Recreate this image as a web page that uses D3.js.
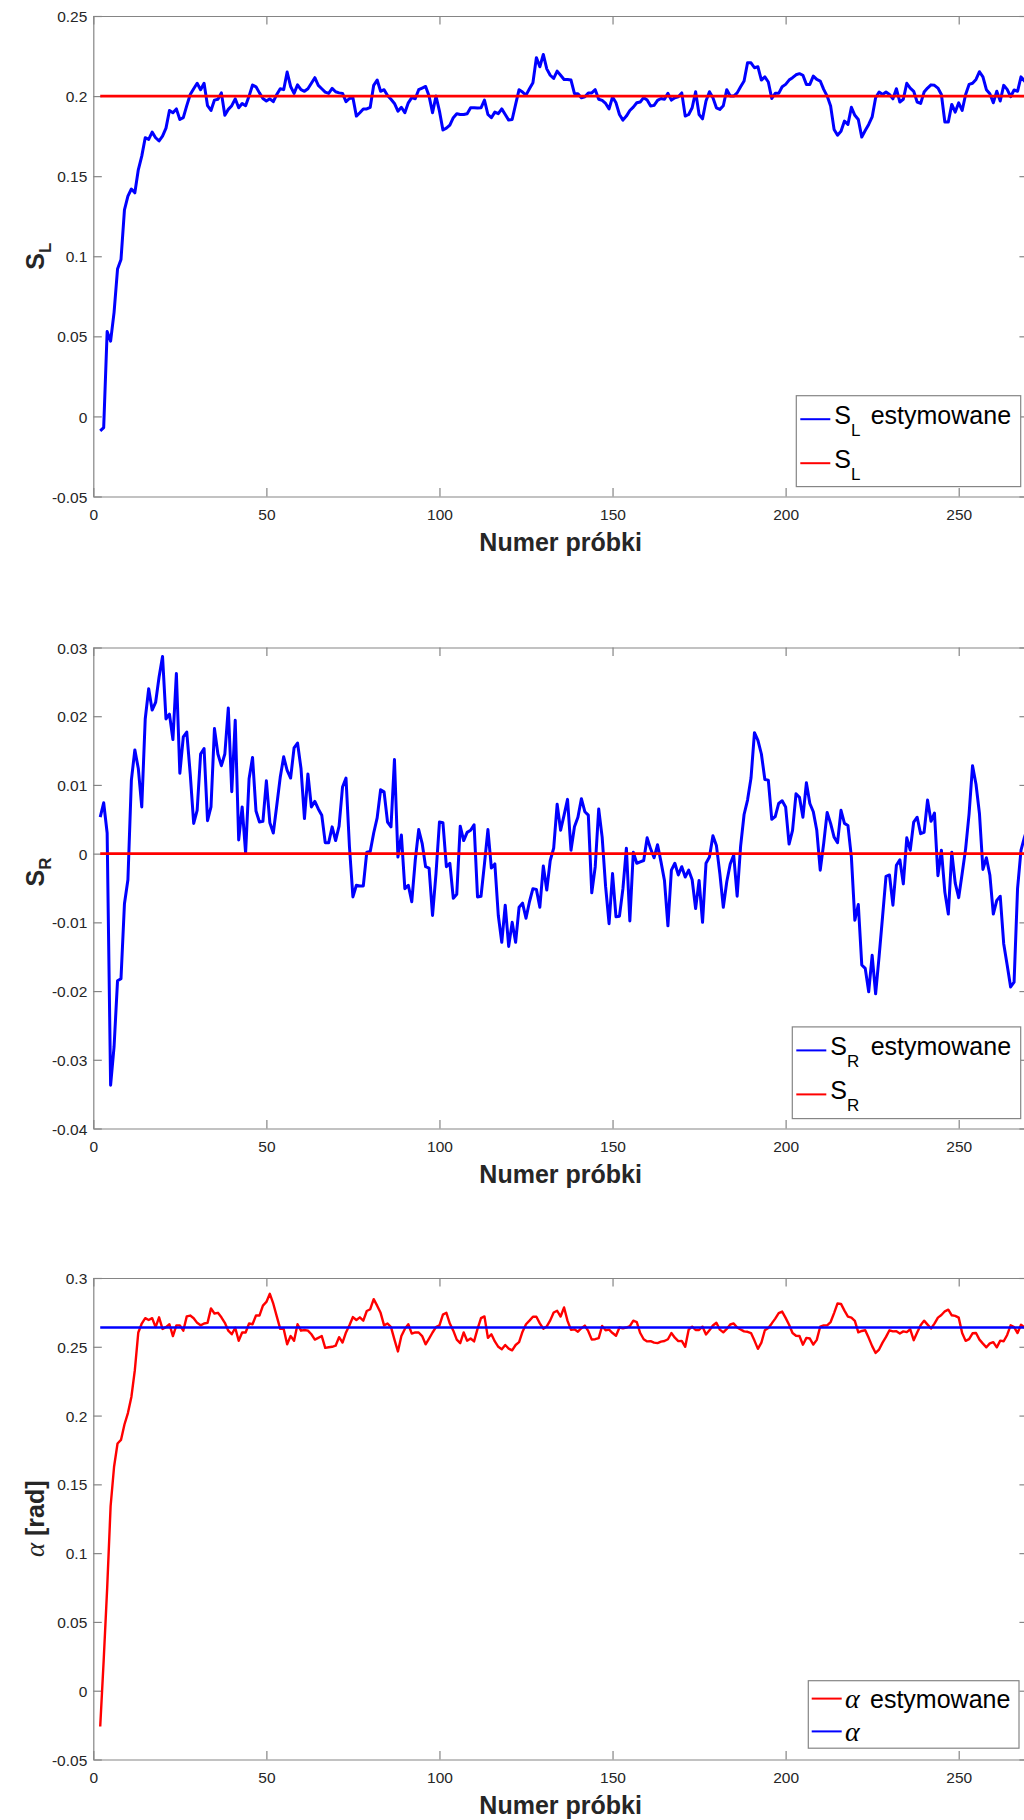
<!DOCTYPE html>
<html>
<head>
<meta charset="utf-8">
<script src="https://cdn.jsdelivr.net/npm/d3@7"></script>
<style>
  body { margin: 0; background: #fff; }
  svg { display: block; }
  text { font-family: "Liberation Sans", Arial, Helvetica, sans-serif; }
</style>
</head>
<body>
<svg id="fig" width="1024" height="1820"></svg>
<script>
// Sample index of the first estimate; every series below runs n = 2 … 270.
const firstSample = 2;
const xMax = 270;

// S_L estimate and its true value
const sLEst = [
  -0.009,-0.007,0.053,0.047,0.065,0.092,0.098,0.129,0.1375,0.142,
  0.1396,0.154,0.1625,0.174,0.173,0.1775,0.174,0.172,0.175,0.180,
  0.191,0.1896,0.192,0.1854,0.1865,0.194,0.201,0.2046,0.208,0.204,
  0.208,0.194,0.191,0.1975,0.198,0.202,0.188,0.1917,0.194,0.1983,
  0.1927,0.1954,0.194,0.2,0.2069,0.2058,0.202,0.1985,0.1969,0.1983,
  0.1965,0.201,0.2046,0.204,0.215,0.206,0.2017,0.207,0.204,0.203,
  0.2046,0.208,0.2115,0.2067,0.2046,0.2025,0.2017,0.2048,0.2027,0.202,
  0.2017,0.1965,0.1985,0.199,0.1875,0.1896,0.192,0.192,0.193,0.2067,
  0.21,0.203,0.204,0.2004,0.198,0.1954,0.1906,0.193,0.1896,0.1958,
  0.199,0.1983,0.204,0.205,0.206,0.2,0.1896,0.2,0.1906,0.1788,
  0.18,0.1819,0.1865,0.189,0.1885,0.1885,0.189,0.1927,0.1927,0.1925,
  0.1927,0.1975,0.1885,0.1865,0.19,0.189,0.192,0.1885,0.185,0.1854,
  0.1948,0.204,0.2025,0.2006,0.2046,0.2083,0.224,0.2183,0.226,0.217,
  0.213,0.211,0.2156,0.213,0.2104,0.2104,0.21,0.2015,0.2015,0.199,
  0.1996,0.202,0.202,0.204,0.198,0.1973,0.1954,0.192,0.1994,0.1958,
  0.1885,0.185,0.1875,0.191,0.1931,0.1958,0.1963,0.199,0.1975,0.1938,
  0.1942,0.1973,0.1985,0.198,0.2017,0.1975,0.199,0.1996,0.202,0.1875,
  0.1885,0.1927,0.2027,0.1885,0.1858,0.1969,0.2027,0.199,0.1927,0.1917,
  0.194,0.204,0.2,0.2,0.202,0.2058,0.2094,0.2208,0.2208,0.2177,
  0.2183,0.21,0.212,0.2088,0.1985,0.2017,0.2017,0.2058,0.2073,0.21,
  0.2115,0.2133,0.214,0.213,0.2073,0.2073,0.2125,0.2104,0.2094,0.2042,
  0.2,0.1938,0.1792,0.1756,0.178,0.1844,0.1823,0.193,0.188,0.1854,
  0.1744,0.1785,0.1823,0.187,0.199,0.2025,0.201,0.2025,0.201,0.1983,
  0.2046,0.1963,0.198,0.208,0.205,0.203,0.1963,0.1954,0.2025,0.205,
  0.207,0.2067,0.205,0.201,0.1838,0.1838,0.1948,0.19,0.1958,0.191,
  0.201,0.2073,0.208,0.2104,0.2152,0.212,0.204,0.2015,0.1958,0.203,
  0.1969,0.2067,0.2042,0.1996,0.2038,0.203,0.212,0.2094,0.207
];
const sLTrue = 0.2;

// S_R estimate and its true value
const sREst = [
  0.0053,0.0074,0.003,-0.0337,-0.0281,-0.0185,-0.0182,-0.0073,-0.0038,0.0107,
  0.0151,0.0124,0.0068,0.0196,0.024,0.0209,0.022,0.0257,0.0287,0.0196,
  0.0203,0.0166,0.0262,0.0117,0.017,0.0177,0.0116,0.0044,0.0063,0.0145,
  0.0153,0.0048,0.0068,0.0182,0.0145,0.0128,0.0145,0.0212,0.009,0.0194,
  0.002,0.0068,0.0001,0.0109,0.014,0.0062,0.0046,0.0047,0.0106,0.0045,
  0.003,0.007,0.0111,0.0141,0.0121,0.011,0.0154,0.0161,0.0124,0.0051,
  0.0116,0.0068,0.0076,0.0065,0.0056,0.0016,0.0016,0.0039,0.0019,0.004,
  0.0097,0.011,0.001,-0.0063,-0.0046,-0.0047,-0.0047,0.0002,0.0003,0.003,
  0.0052,0.0093,0.009,0.0046,0.0039,0.0137,-0.0005,0.0027,-0.0051,-0.0046,
  -0.007,-0.001,0.0035,0.0015,-0.0019,-0.0021,-0.009,-0.0029,0.0046,0.0045,
  -0.0019,-0.0014,-0.0065,-0.0059,0.004,0.0019,0.0031,0.0034,0.0042,-0.0063,
  -0.0062,-0.0015,0.0035,-0.0021,-0.0015,-0.009,-0.0129,-0.0075,-0.0135,-0.01,
  -0.0129,-0.0078,-0.0072,-0.0094,-0.007,-0.0051,-0.0052,-0.0078,-0.0018,-0.0053,
  -0.001,0.0008,0.0072,0.0034,0.0056,0.0079,0.0005,0.0039,0.0053,0.008,
  0.0061,0.0056,-0.0057,-0.0019,0.0065,0.0024,-0.0048,-0.0102,-0.0029,-0.0092,
  -0.0091,-0.0051,0.0008,-0.0098,0.0002,-0.0014,-0.0012,-0.001,0.0023,0.0007,
  -0.0006,0.0013,-0.0012,-0.0039,-0.0105,-0.0024,-0.0014,-0.0031,-0.0019,-0.0034,
  -0.0024,-0.0038,-0.008,-0.0039,-0.01,-0.0014,-0.0005,0.0026,0.0012,-0.0029,
  -0.0078,-0.0041,-0.0015,-0.0002,-0.0062,0.0011,0.0057,0.0078,0.011,0.0176,
  0.0165,0.0145,0.0108,0.0107,0.005,0.0054,0.0073,0.0077,0.0068,0.0014,
  0.0034,0.0087,0.0082,0.0053,0.0103,0.0073,0.0061,0.0034,-0.0024,0.0015,
  0.006,0.0044,0.0024,0.0016,0.0063,0.0044,0.0041,-0.0005,-0.0097,-0.0074,
  -0.0162,-0.0167,-0.0201,-0.0148,-0.0204,-0.015,-0.0092,-0.0033,-0.0031,-0.0075,
  -0.0017,-0.0009,-0.0044,0.0023,0.0005,0.0046,0.0053,0.0029,0.0031,0.0078,
  0.0047,0.0059,-0.0032,0.0005,-0.0056,-0.0088,0.0002,-0.0043,-0.0064,-0.0029,
  0.0007,0.0058,0.0128,0.0101,0.0058,-0.0023,-0.0006,-0.0031,-0.0088,-0.0068,
  -0.0062,-0.0131,-0.0162,-0.0194,-0.0187,-0.0051,0.0005,0.0024,0.004
];
const sRTrue = 0;

// alpha estimate [rad] and its true value
const alphaEst = [
  -0.026,0.0221,0.0742,0.1341,0.1628,0.1797,0.1823,0.1935,0.2018,0.2135,
  0.233,0.2604,0.2669,0.2708,0.2695,0.2708,0.2643,0.2714,0.263,0.2643,
  0.2664,0.2578,0.2656,0.2656,0.2617,0.2721,0.2727,0.2708,0.2674,0.2656,
  0.2669,0.2674,0.2779,0.2742,0.2747,0.2714,0.2674,0.2617,0.2591,0.2638,
  0.2544,0.2604,0.2604,0.2669,0.2664,0.2727,0.2727,0.2799,0.2826,0.2885,
  0.2813,0.2721,0.263,0.263,0.2518,0.2578,0.2544,0.2664,0.2617,0.2622,
  0.2617,0.2591,0.2552,0.2565,0.2578,0.2492,0.2497,0.25,0.2508,0.257,
  0.2531,0.2604,0.2656,0.2716,0.2695,0.2714,0.269,0.276,0.2773,0.2846,
  0.2799,0.2747,0.2656,0.2669,0.2643,0.2552,0.2466,0.2578,0.263,0.2664,
  0.2596,0.2604,0.2604,0.2578,0.2518,0.256,0.2604,0.2643,0.2656,0.2734,
  0.2747,0.2669,0.2617,0.2552,0.2526,0.2604,0.2544,0.256,0.2539,0.263,
  0.2708,0.2721,0.2565,0.2591,0.2539,0.25,0.2482,0.2513,0.2487,0.2474,
  0.2513,0.2534,0.261,0.2664,0.269,0.2718,0.2718,0.267,0.2632,0.2648,
  0.2692,0.2749,0.2762,0.272,0.2786,0.2688,0.2623,0.2627,0.261,0.2635,
  0.2654,0.2613,0.2552,0.2555,0.2563,0.2652,0.262,0.2625,0.26,0.258,
  0.264,0.2635,0.264,0.265,0.269,0.268,0.26,0.2555,0.2539,0.2541,
  0.253,0.2527,0.2537,0.2542,0.2555,0.26,0.2566,0.2541,0.2543,0.25,
  0.2625,0.2646,0.2622,0.2622,0.2646,0.259,0.262,0.2655,0.2675,0.2625,
  0.2605,0.263,0.2662,0.267,0.264,0.2626,0.2612,0.2609,0.26,0.2545,
  0.2485,0.253,0.262,0.2637,0.267,0.2705,0.2745,0.2756,0.271,0.266,
  0.26,0.258,0.2578,0.2515,0.2565,0.256,0.2516,0.255,0.2647,0.2656,
  0.2656,0.268,0.2745,0.2815,0.2812,0.2763,0.272,0.2712,0.2688,0.2605,
  0.2615,0.262,0.2565,0.2505,0.2455,0.248,0.253,0.2572,0.262,0.2612,
  0.2613,0.2597,0.2612,0.2607,0.2627,0.2548,0.2604,0.2656,0.269,0.2661,
  0.2633,0.2668,0.2712,0.2731,0.2758,0.277,0.2729,0.2725,0.2712,0.26,
  0.2543,0.2556,0.2598,0.26,0.2552,0.2523,0.2496,0.2525,0.2534,0.2496,
  0.2545,0.254,0.2586,0.2656,0.2643,0.26,0.266,0.264,0.263
];
const alphaTrue = 0.264;

// Tick values
const xTicks = [0, 50, 100, 150, 200, 250];
const yTicksSL = [-0.05, 0, 0.05, 0.1, 0.15, 0.2, 0.25];
const yTicksSR = [-0.04, -0.03, -0.02, -0.01, 0, 0.01, 0.02, 0.03];
const yTicksAlpha = [-0.05, 0, 0.05, 0.1, 0.15, 0.2, 0.25, 0.3];

const BLUE = "#0000ff", RED = "#ff0000";
const AXIS = "#858585", TICKTEXT = "#262626";
const fmt = v => String(+v.toFixed(4));

const svg = d3.select("#fig");
const left = 93.3;
const x = d3.scaleLinear().domain([0, xMax]).range([left, left + xMax * 3.4616]);
const lastSample = firstSample + sLEst.length - 1;

const panels = [
  { top: 16, bottom: 496.5, domain: [-0.05, 0.25], ticks: yTicksSL,
    est: sLEst, truth: sLTrue, estColor: BLUE, trueColor: RED, estW: 3, trueW: 2.8,
    sym: "S", sub: "L", legendKind: "S", ylabDy: 0 },
  { top: 647.5, bottom: 1128.5, domain: [-0.04, 0.03], ticks: yTicksSR,
    est: sREst, truth: sRTrue, estColor: BLUE, trueColor: RED, estW: 3, trueW: 2.6,
    sym: "S", sub: "R", legendKind: "S", ylabDy: -16 },
  { top: 1278, bottom: 1759.5, domain: [-0.05, 0.3], ticks: yTicksAlpha,
    est: alphaEst, truth: alphaTrue, estColor: RED, trueColor: BLUE, estW: 2.4, trueW: 2.4,
    legendKind: "alpha", ylabDy: 0 }
];

panels.forEach((p, pi) => {
  const y = d3.scaleLinear().domain(p.domain).range([p.bottom, p.top]);
  const g = svg.append("g");
  const x0 = x.range()[0], x1 = x.range()[1];
  const tickLen = 8.5;

  // axes and ticks (inward, on all four sides)
  const axBottom = d3.axisBottom(x).tickValues(xTicks).tickFormat(fmt).tickSizeInner(-tickLen).tickSizeOuter(0).tickPadding(12);
  const axTop = d3.axisTop(x).tickValues(xTicks).tickFormat("").tickSizeInner(-tickLen).tickSizeOuter(0);
  const axLeft = d3.axisLeft(y).tickValues(p.ticks).tickFormat(fmt).tickSizeInner(-tickLen).tickSizeOuter(0).tickPadding(6);
  const axRight = d3.axisRight(y).tickValues(p.ticks).tickFormat("").tickSizeInner(-tickLen).tickSizeOuter(0);

  const gb = g.append("g").attr("transform", `translate(0,${p.bottom})`).call(axBottom);
  const gt = g.append("g").attr("transform", `translate(0,${p.top})`).call(axTop);
  const gl = g.append("g").attr("transform", `translate(${x0},0)`).call(axLeft);
  const gr = g.append("g").attr("transform", `translate(${x1},0)`).call(axRight);
  [gb, gt, gl, gr].forEach(a => {
    a.select(".domain").attr("stroke", AXIS).attr("stroke-width", 1.2);
    a.selectAll(".tick line").attr("stroke", AXIS).attr("stroke-width", 1.2);
    a.selectAll(".tick text").attr("fill", TICKTEXT).style("font-size", "15.5px")
      .style("font-family", '"Liberation Sans", Arial, Helvetica, sans-serif');
  });
  gl.selectAll(".tick text").attr("dy", "0.36em");

  // data
  const line = d3.line().x((d, i) => x(firstSample + i)).y(d => y(d));
  g.append("path").datum(p.est).attr("d", line)
    .attr("fill", "none").attr("stroke", p.estColor).attr("stroke-width", p.estW)
    .attr("stroke-linejoin", "round");
  const flat = d3.line().x(d => x(d[0])).y(d => y(d[1]));
  g.append("path").datum([[firstSample, p.truth], [lastSample, p.truth]]).attr("d", flat)
    .attr("fill", "none").attr("stroke", p.trueColor).attr("stroke-width", p.trueW);

  // x label
  g.append("text").attr("x", (x0 + x1) / 2).attr("y", p.bottom + 54)
    .attr("text-anchor", "middle").style("font-size", "25px").style("font-weight", "bold")
    .attr("fill", "#262626").text("Numer próbki");

  // y label
  const yl = g.append("text")
    .attr("transform", `translate(44,${(p.top + p.bottom) / 2 + p.ylabDy}) rotate(-90)`)
    .attr("text-anchor", "middle").attr("fill", "#262626").style("font-size", "25px").style("font-weight", "bold");
  if (p.legendKind === "S") {
    yl.append("tspan").text(p.sym);
    yl.append("tspan").attr("dy", 7).style("font-size", "17px").text(p.sub);
  } else {
    yl.append("tspan").style("font-family", '"Liberation Serif", "DejaVu Serif", serif')
      .style("font-style", "italic").style("font-weight", "normal").style("font-size", "27px").text("α");
    yl.append("tspan").text(" [rad]");
  }

  // legend
  const lg = g.append("g");
  if (p.legendKind === "S") {
    const bx0 = pi === 0 ? 796.3 : 792.3, bx1 = 1020.7;
    const by0 = p.bottom - 100.8 + (pi === 0 ? 0 : -0.8), by1 = p.bottom - 9.9;
    lg.append("rect").attr("x", bx0).attr("y", by0).attr("width", bx1 - bx0).attr("height", by1 - by0)
      .attr("fill", "#fff").attr("stroke", AXIS).attr("stroke-width", 1.2);
    const rows = [
      { color: p.estColor, label: "estymowane" },
      { color: p.trueColor, label: "" }
    ];
    rows.forEach((r, ri) => {
      const ly = by0 + 23.5 + ri * 44;
      lg.append("line").attr("x1", bx0 + 4).attr("x2", bx0 + 34).attr("y1", ly).attr("y2", ly)
        .attr("stroke", r.color).attr("stroke-width", 2);
      const t = lg.append("text").attr("x", bx0 + 38).attr("y", ly + 4.5)
        .style("font-size", "25px").attr("fill", "#000");
      t.append("tspan").text(p.sym);
      t.append("tspan").attr("dy", 12.5).style("font-size", "17px").text(p.sub);
      if (r.label) t.append("tspan").attr("x", 870.7).attr("dy", -12.5).text(r.label);
    });
  } else {
    const bx0 = 808.3, bx1 = 1019, by0 = 1680.7, by1 = 1748.2;
    lg.append("rect").attr("x", bx0).attr("y", by0).attr("width", bx1 - bx0).attr("height", by1 - by0)
      .attr("fill", "#fff").attr("stroke", AXIS).attr("stroke-width", 1.2);
    const rows = [
      { color: p.estColor, label: "estymowane", y: 1698.6 },
      { color: p.trueColor, label: "", y: 1731.4 }
    ];
    rows.forEach(r => {
      lg.append("line").attr("x1", bx0 + 3.4).attr("x2", bx0 + 33.4).attr("y1", r.y).attr("y2", r.y)
        .attr("stroke", r.color).attr("stroke-width", 2);
      const t = lg.append("text").attr("x", 845).attr("y", r.y + 9.5).style("font-size", "25px").attr("fill", "#000");
      t.append("tspan").style("font-family", '"Liberation Serif", "DejaVu Serif", serif')
        .style("font-style", "italic").style("font-size", "28px").text("α");
      if (r.label) t.append("tspan").attr("x", 870).text(r.label);
    });
  }
});
</script>
</body>
</html>
